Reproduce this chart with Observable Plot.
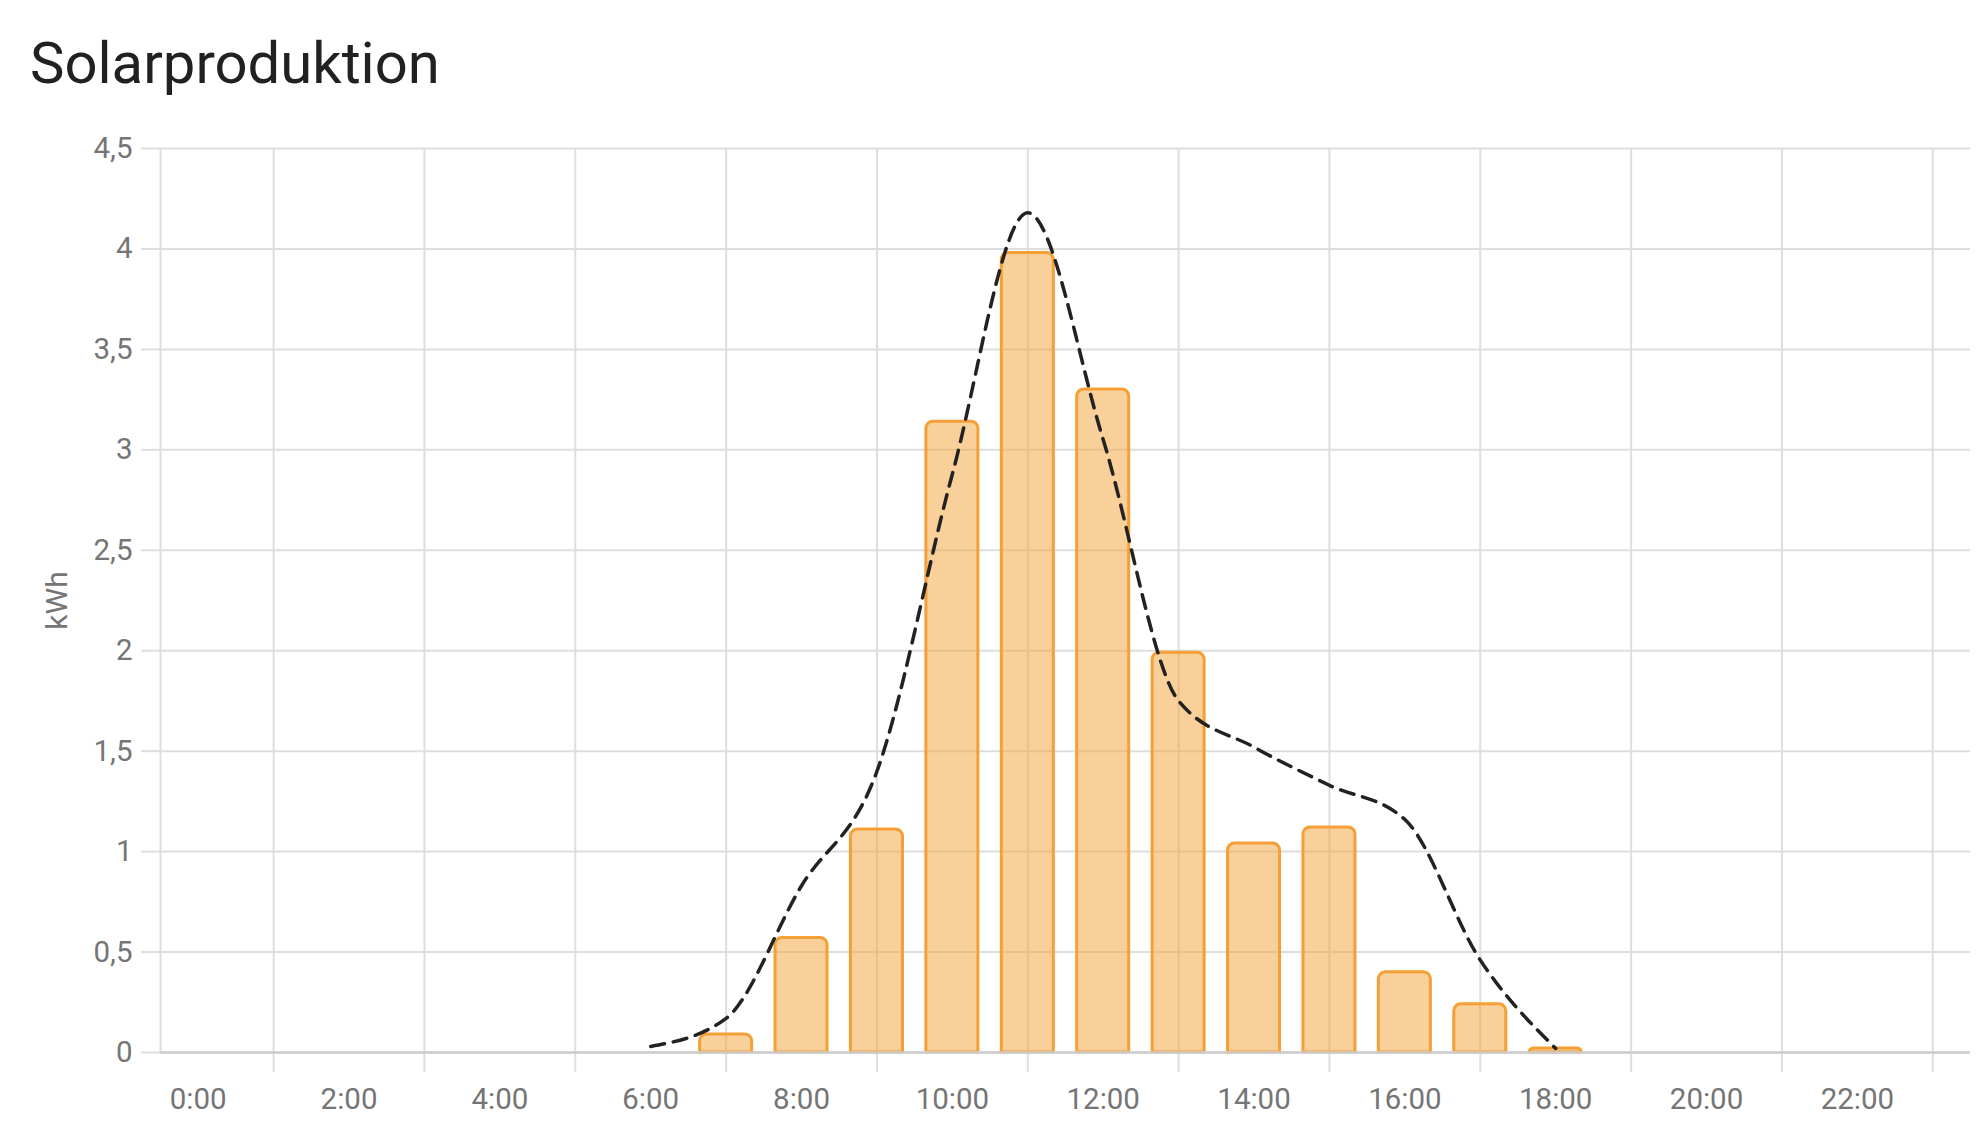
<!DOCTYPE html>
<html>
<head>
<meta charset="utf-8">
<script src="https://cdn.jsdelivr.net/npm/d3@7"></script>
<script src="https://cdn.jsdelivr.net/npm/@observablehq/plot@0.6"></script>
<style>
  html, body { margin: 0; padding: 0; background: #fff; }
  #title { height: 110px; box-sizing: border-box; padding-left: 30px; padding-top: 23px;
           font-family: Roboto, sans-serif; font-size: 58px; line-height: 80px; color: #212121; }
  #chart svg { display: block; }
</style>
</head>
<body>
<div id="title">Solarproduktion</div>
<div id="chart"></div>
<script>
// Produced energy per hour (bars)
const barHours = [7, 8, 9, 10, 11, 12, 13, 14, 15, 16, 17, 18];
const barValues = [0.09, 0.57, 1.11, 3.14, 3.98, 3.30, 1.99, 1.04, 1.12, 0.40, 0.24, 0.02];
// Forecast (dashed line)
const forecastHours = [6, 7, 8, 9, 10, 11, 12, 13, 14, 15, 16, 17, 18];
const forecastValues = [0.03, 0.17, 0.83, 1.40, 2.88, 4.18, 3.05, 1.75, 1.52, 1.33, 1.16, 0.46, 0.02];
// Axis ticks
const xLabelHours = [0, 2, 4, 6, 8, 10, 12, 14, 16, 18, 20, 22];
const xGridHours = [-0.5, 1, 3, 5, 7, 9, 11, 13, 15, 17, 19, 21, 23];
const yTicks = [0, 0.5, 1, 1.5, 2, 2.5, 3, 3.5, 4, 4.5];
const yLabel = "kWh";

const bars = barHours.map((h, i) => ({hour: h, value: barValues[i]}));
const forecast = forecastHours.map((h, i) => ({hour: h, value: forecastValues[i]}));
const halfBar = 0.345;
const fmtY = d => String(d).replace(".", ",");
const fmtX = d => `${d}:00`;

const gridColor = "#dedede";
const textColor = "#757575";

const chart = Plot.plot({
  width: 1978,
  height: 1038,
  marginTop: 38,
  marginBottom: 96,
  marginLeft: 160,
  marginRight: 8,
  style: {fontFamily: "Roboto, sans-serif", fontSize: "29.5px", background: "#fff", overflow: "visible"},
  x: {type: "linear", domain: [-0.5, 23.5]},
  y: {domain: [0, 4.5]},
  marks: [
    Plot.gridY({ticks: yTicks, stroke: gridColor, strokeOpacity: 1, strokeWidth: 2}),
    Plot.gridX({ticks: xGridHours, stroke: gridColor, strokeOpacity: 1, strokeWidth: 2}),
    Plot.axisY({ticks: yTicks, tickFormat: fmtY, tickSize: 19, tickPadding: 9,
      stroke: gridColor, strokeWidth: 2, fill: textColor, label: null}),
    Plot.axisX({ticks: xGridHours.filter(h => h > 0), tickFormat: () => "", tickSize: 20,
      stroke: gridColor, strokeWidth: 2, label: null}),
    Plot.axisX({ticks: xLabelHours, tickFormat: fmtX, tickSize: 0, tickPadding: 36,
      fill: textColor, label: null}),
    Plot.text([yLabel], {text: d => d, frameAnchor: "left", textAnchor: "middle", dx: -103, rotate: -90,
      fill: textColor, fontSize: 30}),
    Plot.rectY(bars, {
      x1: d => d.hour - halfBar, x2: d => d.hour + halfBar, y1: 0, y2: "value",
      fill: "#f4a036", fillOpacity: 0.5, stroke: "#f4a036", strokeWidth: 3, ry2: 7
    }),
    Plot.ruleY([0], {stroke: "#cccccc", strokeWidth: 2.5}),
    Plot.line(forecast, {x: "hour", y: "value", curve: "monotone-x",
      stroke: "#222", strokeWidth: 3.5, strokeDasharray: "14,9"})
  ]
});
document.getElementById("chart").appendChild(chart);
</script>
</body>
</html>
